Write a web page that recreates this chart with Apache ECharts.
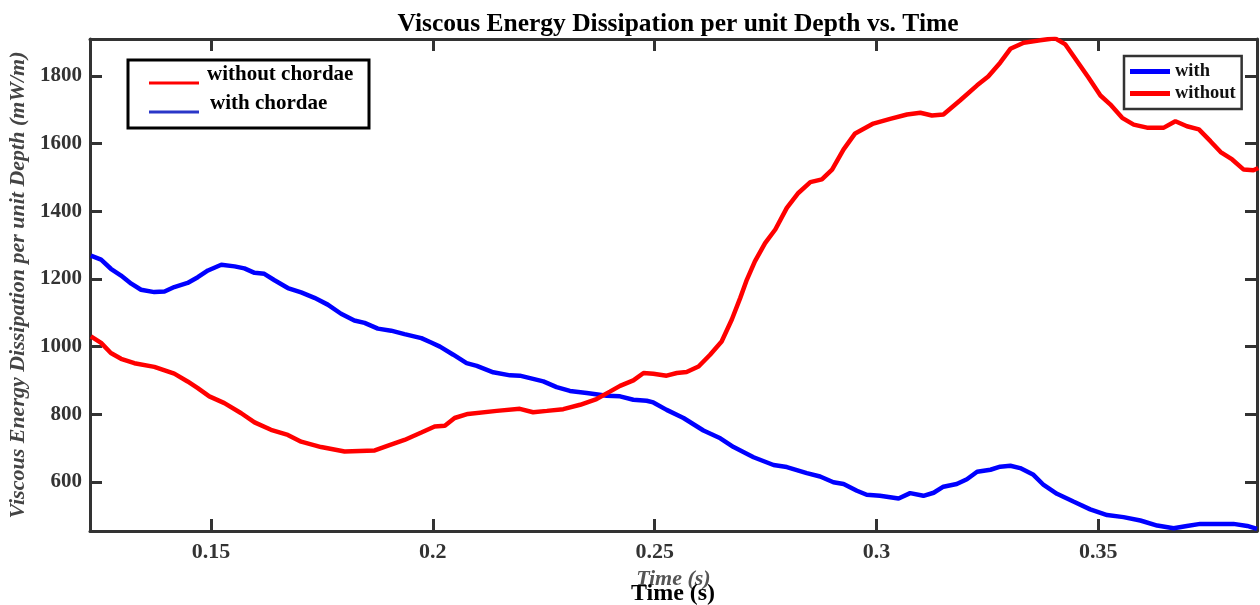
<!DOCTYPE html>
<html>
<head>
<meta charset="utf-8">
<script src="https://cdn.jsdelivr.net/npm/echarts@6/dist/echarts.min.js"></script>
<style>html,body{margin:0;padding:0;background:#fff}#c{width:1260px;height:605px}</style>
</head>
<body>
<div id="c"></div>
<script>
// time (s) and dissipation (mW/m)
const withT = [0.1229,0.1252,0.1274,0.1297,0.1320,0.1342,0.1372,0.1395,0.1417,0.1447,0.1470,0.1493,0.1523,0.1553,0.1575,0.1598,0.1620,0.1643,0.1673,0.1703,0.1733,0.1763,0.1793,0.1823,0.1846,0.1876,0.1906,0.1936,0.1974,0.1996,0.2016,0.2046,0.2076,0.2099,0.2136,0.2174,0.2196,0.2249,0.2279,0.2309,0.2347,0.2392,0.2422,0.2452,0.2482,0.2497,0.2527,0.2565,0.2610,0.2648,0.2678,0.2723,0.2768,0.2798,0.2843,0.2873,0.2903,0.2926,0.2956,0.2978,0.3008,0.3050,0.3076,0.3106,0.3129,0.3151,0.3181,0.3204,0.3227,0.3257,0.3279,0.3302,0.3324,0.3354,0.3377,0.3407,0.3444,0.3482,0.3520,0.3557,0.3595,0.3633,0.3670,0.3700,0.3730,0.3768,0.3805,0.3836,0.3858];
const withV = [1269,1257,1230,1210,1186,1168,1161,1163,1176,1188,1205,1225,1242,1237,1231,1218,1215,1196,1173,1160,1144,1124,1097,1077,1070,1053,1047,1037,1025,1012,1000,976,951,943,924,915,914,897,880,869,863,855,853,843,840,835,813,789,752,729,703,673,650,644,626,616,599,594,574,562,559,551,567,559,568,586,594,608,630,636,645,648,641,621,591,565,542,519,502,496,486,471,463,470,476,476,476,470,461];
const withoutT = [0.1229,0.1252,0.1274,0.1297,0.1327,0.1372,0.1417,0.1447,0.1470,0.1496,0.1530,0.1568,0.1598,0.1635,0.1673,0.1703,0.1748,0.1801,0.1869,0.1899,0.1936,0.1974,0.2004,0.2027,0.2049,0.2079,0.2144,0.2196,0.2226,0.2257,0.2294,0.2332,0.2369,0.2399,0.2422,0.2452,0.2475,0.2497,0.2527,0.2550,0.2572,0.2599,0.2625,0.2651,0.2674,0.2693,0.2708,0.2726,0.2749,0.2772,0.2798,0.2824,0.2851,0.2877,0.2900,0.2926,0.2952,0.2993,0.3031,0.3069,0.3099,0.3125,0.3151,0.3189,0.3227,0.3252,0.3279,0.3302,0.3332,0.3369,0.3403,0.3426,0.3452,0.3478,0.3505,0.3527,0.3554,0.3580,0.3610,0.3648,0.3674,0.3700,0.3727,0.3753,0.3776,0.3802,0.3828,0.3850,0.3861];
const withoutV = [1030,1011,981,964,951,940,920,897,877,853,833,803,776,754,739,719,703,690,693,707,724,746,764,766,789,801,810,816,806,810,815,828,845,867,884,900,922,920,914,922,925,941,976,1015,1080,1144,1198,1252,1306,1346,1410,1454,1486,1494,1523,1583,1630,1659,1673,1686,1691,1683,1686,1728,1772,1798,1839,1880,1898,1905,1911,1893,1844,1795,1742,1716,1676,1656,1647,1647,1666,1651,1642,1607,1575,1553,1523,1521,1528];
const xTicks = [0.15, 0.2, 0.25, 0.3, 0.35];
const yTicks = [600, 800, 1000, 1200, 1400, 1600, 1800];
const seriesNames = ['with', 'without'];
const boxLegend = ['without chordae', 'with chordae'];

const zip = (a, b) => a.map((t, i) => [t, b[i]]);
const axisCol = '#333333';
const serif = '"Liberation Serif", "Times New Roman", serif';

const chart = echarts.init(document.getElementById('c'));
const xBase = {
  type: 'value', min: 0.1227, max: 0.3858,
  axisLine: { show: true, onZero: false, lineStyle: { color: axisCol, width: 3 } },
  axisTick: { show: true, inside: true, length: 12, customValues: xTicks, lineStyle: { color: axisCol, width: 3 } },
  splitLine: { show: false }
};
const yBase = {
  type: 'value', min: 455, max: 1909,
  axisLine: { show: true, onZero: false, lineStyle: { color: axisCol, width: 3 } },
  axisTick: { show: true, inside: true, length: 12, customValues: yTicks, lineStyle: { color: axisCol, width: 3 } },
  splitLine: { show: false }
};
chart.setOption({
  animation: false,
  title: {
    text: 'Viscous Energy Dissipation per unit Depth vs. Time',
    left: 673, top: 6, textAlign: 'center',
    textStyle: { fontFamily: serif, fontWeight: 'bold', fontSize: 25.5, color: '#000' }
  },
  grid: { left: 90, right: 3, top: 39, bottom: 74, containLabel: false, outerBoundsMode: 'none' },
  legend: {
    data: seriesNames, orient: 'vertical', left: 1124, top: 56,
    backgroundColor: '#fff', borderColor: axisCol, borderWidth: 2.5,
    padding: [6, 6, 6, 6], itemGap: 3, itemWidth: 40, itemHeight: 5, icon: 'rect',
    textStyle: { fontFamily: serif, fontWeight: 'bold', fontSize: 18.5, color: '#111' }
  },
  xAxis: [
    Object.assign({}, xBase, {
      position: 'bottom',
      axisLabel: { show: true, customValues: xTicks, margin: 10, formatter: v => String(v),
        fontFamily: serif, fontWeight: 'bold', fontSize: 22, color: '#333' },
      name: 'Time (s)', nameLocation: 'middle', nameGap: 37,
      nameTextStyle: { fontFamily: serif, fontStyle: 'italic', fontWeight: 'bold', fontSize: 22, color: '#555' }
    }),
    Object.assign({}, xBase, { position: 'top', axisLabel: { show: false } })
  ],
  yAxis: [
    Object.assign({}, yBase, {
      position: 'left',
      axisLabel: { show: true, customValues: yTicks, margin: 8, formatter: v => String(v),
        fontFamily: serif, fontWeight: 'bold', fontSize: 21, color: '#333' },
      name: 'Viscous Energy Dissipation per unit Depth (mW/m)', nameLocation: 'middle', nameGap: 61,
      nameTextStyle: { fontFamily: serif, fontStyle: 'italic', fontWeight: 'bold', fontSize: 22, color: '#444' }
    }),
    Object.assign({}, yBase, { position: 'right', axisLabel: { show: false } })
  ],
  series: [
    { name: seriesNames[0], type: 'line', data: zip(withT, withV), showSymbol: false, clip: true,
      color: '#0000ff', lineStyle: { color: '#0000ff', width: 4.5 } },
    { name: seriesNames[1], type: 'line', data: zip(withoutT, withoutV), showSymbol: false, clip: true,
      color: '#ff0000', lineStyle: { color: '#ff0000', width: 4.5 } }
  ],
  graphic: [
    { type: 'rect', shape: { x: 128, y: 60, width: 241, height: 68 }, z: 100,
      style: { fill: '#fff', stroke: '#000', lineWidth: 3 } },
    { type: 'line', shape: { x1: 149, y1: 83, x2: 199, y2: 83 }, z: 101, style: { stroke: '#ff0000', lineWidth: 3 } },
    { type: 'line', shape: { x1: 149, y1: 112, x2: 199, y2: 112 }, z: 101, style: { stroke: '#2a36c8', lineWidth: 3 } },
    { type: 'text', x: 207, y: 75, z: 101, style: { text: boxLegend[0], fill: '#000', font: 'bold 21px ' + serif, textVerticalAlign: 'middle' } },
    { type: 'text', x: 210, y: 104, z: 101, style: { text: boxLegend[1], fill: '#000', font: 'bold 21px ' + serif, textVerticalAlign: 'middle' } },
    { type: 'text', x: 673, y: 594, z: 101, style: { text: 'Time (s)', fill: '#000', font: 'bold 24px ' + serif, textAlign: 'center', textVerticalAlign: 'middle' } }
  ]
});
</script>
</body>
</html>
